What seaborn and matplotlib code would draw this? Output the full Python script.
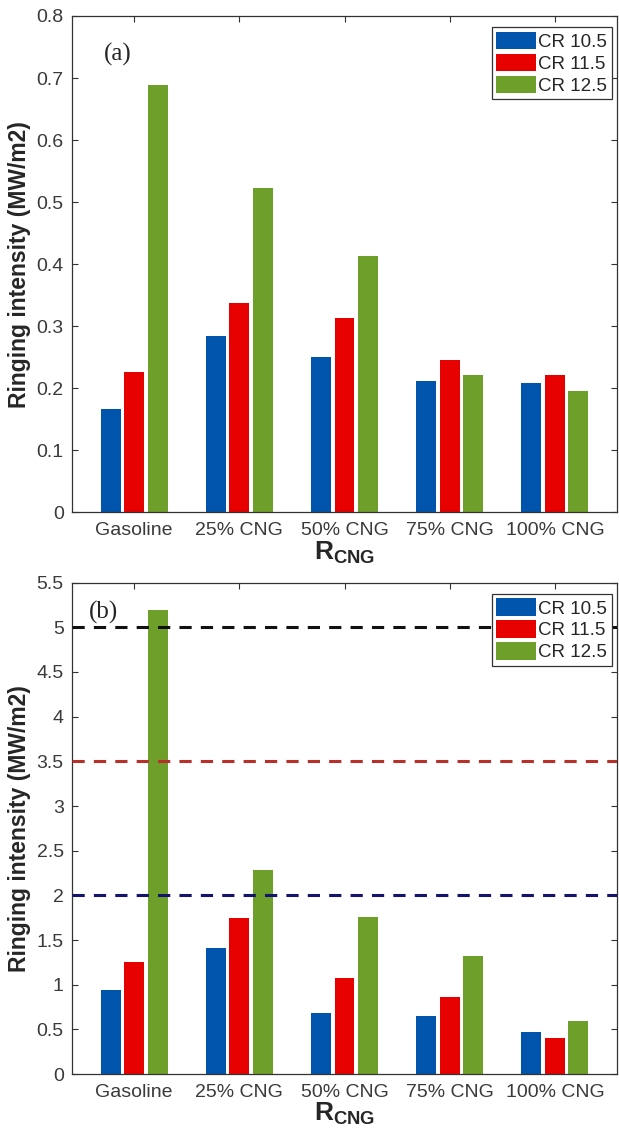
import pandas as pd
import matplotlib
matplotlib.use("Agg")
import matplotlib.pyplot as plt
import seaborn as sns

# datos
categorias = ["Gasoline", "25% CNG", "50% CNG", "75% CNG", "100% CNG"]
series = ["CR 10.5", "CR 11.5", "CR 12.5"]

ri_a_cr105 = [0.166, 0.284, 0.250, 0.212, 0.209]
ri_a_cr115 = [0.227, 0.338, 0.313, 0.245, 0.222]
ri_a_cr125 = [0.688, 0.523, 0.413, 0.222, 0.196]

ri_b_cr105 = [0.944, 1.41, 0.687, 0.65, 0.474]
ri_b_cr115 = [1.259, 1.749, 1.07, 0.862, 0.40]
ri_b_cr125 = [5.19, 2.28, 1.757, 1.324, 0.597]

# limites (lineas discontinuas del panel b)
limites = [5.0, 3.5, 2.0]
colores_limites = ["#111111", "#b8302a", "#14146e"]

colores = ["#0054ab", "#e60000", "#6e9f2a"]


def tabla(*valores):
    filas = []
    for s, vals in zip(series, valores):
        for c, v in zip(categorias, vals):
            filas.append({"RCNG": c, "CR": s, "RI": v})
    return pd.DataFrame(filas)


df_a = tabla(ri_a_cr105, ri_a_cr115, ri_a_cr125)
df_b = tabla(ri_b_cr105, ri_b_cr115, ri_b_cr125)

sns.set_style("ticks")
plt.rcParams["font.family"] = ["Liberation Sans", "DejaVu Sans"]
plt.rcParams["mathtext.fontset"] = "custom"
plt.rcParams["mathtext.bf"] = "Liberation Sans:bold"
plt.rcParams["mathtext.rm"] = "Liberation Sans"

fig = plt.figure(figsize=(6.19, 11.32), dpi=100)
ax1 = fig.add_axes([0.1163, 0.5473, 0.8805, 0.4386])
ax2 = fig.add_axes([0.1163, 0.0512, 0.8805, 0.4341])

for ax, df, ylim, yticks, etiqueta, pos in [
    (ax1, df_a, (0, 0.8), [0, 0.1, 0.2, 0.3, 0.4, 0.5, 0.6, 0.7, 0.8], "(a)", (0.084, 0.923)),
    (ax2, df_b, (0, 5.5), [0, 0.5, 1, 1.5, 2, 2.5, 3, 3.5, 4, 4.5, 5, 5.5], "(b)", (0.057, 0.94)),
]:
    sns.barplot(data=df, x="RCNG", y="RI", hue="CR", palette=colores,
                width=0.67, gap=0.15, saturation=1, ax=ax, linewidth=0)
    ax.set_xlim(-0.59, 4.59)
    ax.set_ylim(*ylim)
    ax.set_yticks(yticks)
    ax.set_yticklabels([("%g" % t) for t in yticks])
    ax.tick_params(direction="in", top=True, right=True, labelsize=14,
                   labelcolor="#3a3a3a", color="#333333", length=4)
    ax.tick_params(axis="x", pad=7)
    ax.tick_params(axis="y", pad=6)
    for sp in ax.spines.values():
        sp.set_color("#333333")
        sp.set_linewidth(0.9)
    ax.set_ylabel("Ringing intensity (MW/m2)", fontsize=16.5, fontweight="bold", labelpad=4)
    ax.set_xlabel(r"$\mathbf{R}_{\mathbf{CNG}}$", fontsize=19, labelpad=0)
    ax.text(pos[0], pos[1], etiqueta, transform=ax.transAxes, ha="center", va="center",
            fontsize=18, family="Liberation Serif")
    leg = ax.legend(loc="upper right", bbox_to_anchor=(0.997, 0.985), fontsize=13.5,
                    handlelength=2.1, handleheight=1.05, handletextpad=0.12,
                    labelspacing=0.15, borderpad=0.25, borderaxespad=0.2,
                    fancybox=False, framealpha=1, edgecolor="#333333")
    leg.get_frame().set_linewidth(0.9)

for y, c in zip(limites, colores_limites):
    ax2.axhline(y, color=c, linestyle=(0, (4, 3)), linewidth=2.2, zorder=3)

fig.savefig("out.png", dpi=100)
